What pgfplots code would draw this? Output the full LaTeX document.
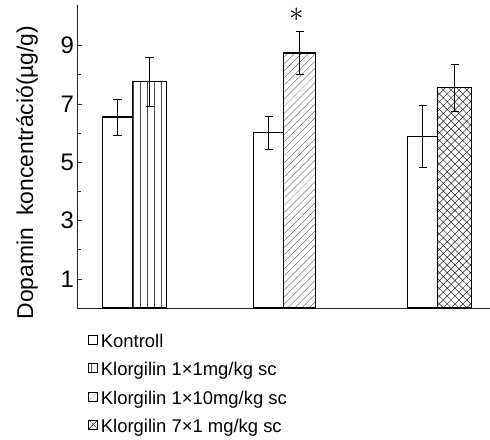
\documentclass[border=0pt]{standalone}
\usepackage{fontspec}
\setmainfont{Liberation Sans}
\usepackage{pgfplots}
\pgfplotsset{compat=1.18}
\usetikzlibrary{patterns.meta}
\pgfplotsset{leg/.style={legend image code/.code={\draw[##1, line width=0.6pt] (0bp,-2.7bp) rectangle (9bp,6.3bp);}}}
\newcommand{\ls}{\vphantom{Kg}}
\begin{document}
\begin{tikzpicture}
\useasboundingbox (-77bp,-132bp) rectangle (413bp,308bp);
\begin{axis}[
  at={(0,0)}, anchor=south west,
  scale only axis, width=413bp, height=303bp,
  xmin=0, xmax=413, ymin=0, ymax=10.39,
  axis lines=left, axis line style={-, line width=0.7pt, black!85},
  xtick=\empty,
  ytick={1,3,5,7,9}, minor ytick={2,4,6,8},
  tick style={line width=0.6pt, black!85},
  major tick length=5bp, minor tick length=4bp,
  tick align=inside,
  yticklabel style={font=\fontsize{24}{24}\selectfont, inner sep=0pt, xshift=-3bp},
  /pgf/number format/assume math mode=true,
  ylabel={Dopamin\hspace{12bp}koncentráció(µg/g)},
  ylabel style={font=\fontsize{23}{23}\selectfont, at={(axis description cs:-0.094,0.447)}, anchor=south, inner sep=0pt},
  ybar,
  clip=false,
  error bars/error bar style={line width=0.6pt, black, solid},
  error bars/error mark options={rotate=90, line width=0.6pt, black, mark size=4bp},
  legend cell align=left,
  legend style={at={(axis description cs:0.027,-0.086)}, anchor=north west, draw=none, fill=none,
    font=\fontsize{18.5}{22}\selectfont, row sep=13.5bp, inner sep=0pt,
    nodes={inner sep=0pt},
    /tikz/every odd column/.append style={column sep=3bp}},
]
\addplot[leg, fill=white, draw=black, line width=1.1pt, bar width=30, bar shift=0pt,
  error bars/.cd, y dir=both, y explicit]
  coordinates {(40.5,6.55) +- (0,0.62) (191.5,6.02) +- (0,0.57) (345.5,5.88) +- (0,1.06)};
\addlegendentry{\ls Kontroll}
\addplot[leg, pattern={Lines[angle=90,distance=7bp,line width=0.35pt]}, pattern color=black!70,
  draw=black, line width=1.5pt, bar width=34, bar shift=0pt,
  error bars/.cd, y dir=both, y explicit]
  coordinates {(72.5,7.76) +- (0,0.84)};
\addlegendentry{\ls Klorgilin 1×1mg/kg sc}
\addplot[leg, pattern={Lines[angle=45,distance=5bp,line width=0.35pt]}, pattern color=black!70,
  draw=black, line width=1.5pt, bar width=32, bar shift=0pt,
  error bars/.cd, y dir=both, y explicit]
  coordinates {(222.5,8.75) +- (0,0.74)};
\addlegendentry{\ls Klorgilin 1×10mg/kg sc}
\addplot[leg, pattern={Hatch[angle=45,distance=5.5bp,line width=0.5pt]}, pattern color=black!85,
  draw=black, line width=1.5pt, bar width=34, bar shift=0pt,
  error bars/.cd, y dir=both, y explicit]
  coordinates {(377.5,7.56) +- (0,0.8)};
\addlegendentry{\ls Klorgilin 7×1 mg/kg sc}
\node[inner sep=0pt] at (axis cs:220,10.05) {\scalebox{1.4}{\fontsize{20}{20}\selectfont$\ast$}};
\end{axis}
\end{tikzpicture}
\end{document}
